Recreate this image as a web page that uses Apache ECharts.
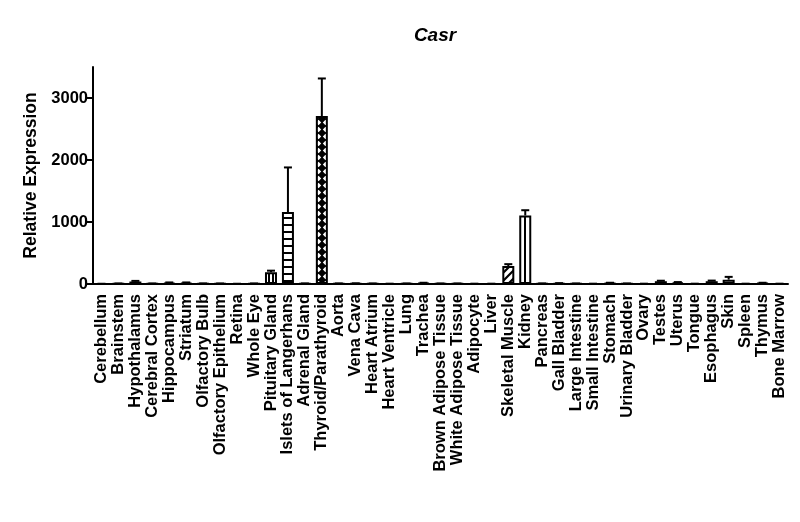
<!DOCTYPE html>
<html>
<head>
<meta charset="UTF-8">
<title>Casr</title>
<style>html,body{margin:0;padding:0;background:#fff;}#chart{width:800px;height:522px;}</style>
<script src="https://cdn.jsdelivr.net/npm/echarts@6/dist/echarts.min.js"></script>
</head>
<body>
<div id="chart"></div>
<script>
// tissues along the x axis
var tissues = ['Cerebellum', 'Brainstem', 'Hypothalamus', 'Cerebral Cortex', 'Hippocampus', 'Striatum',
  'Olfactory Bulb', 'Olfactory Epithelium', 'Retina', 'Whole Eye', 'Pituitary Gland', 'Islets of Langerhans',
  'Adrenal Gland', 'Thyroid/Parathyroid', 'Aorta', 'Vena Cava', 'Heart Atrium', 'Heart Ventricle', 'Lung',
  'Trachea', 'Brown Adipose Tissue', 'White Adipose Tissue', 'Adipocyte', 'Liver', 'Skeletal Muscle', 'Kidney',
  'Pancreas', 'Gall Bladder', 'Large Intestine', 'Small Intestine', 'Stomach', 'Urinary Bladder', 'Ovary',
  'Testes', 'Uterus', 'Tongue', 'Esophagus', 'Skin', 'Spleen', 'Thymus', 'Bone Marrow'];
// mean relative expression
var means = [2, 5, 40, 5, 20, 20, 6, 5, 2, 5, 190, 1160, 6, 2710, 6, 8, 5, 3, 5, 15, 5, 5, 3, 3, 290, 1105,
  6, 10, 5, 3, 15, 5, 3, 45, 25, 3, 45, 70, 3, 15, 3];
// upper error (SEM)
var errs = [2, 3, 10, 3, 5, 5, 3, 3, 2, 3, 25, 720, 3, 605, 3, 3, 3, 2, 3, 5, 3, 3, 2, 2, 30, 85,
  3, 4, 3, 2, 5, 3, 2, 8, 6, 2, 10, 45, 2, 5, 2];
var yTicks = [0, 1000, 2000, 3000];

var FONT = 'Liberation Sans, Arial, sans-serif';

// fill patterns for the highlighted tissues
function pattern(kind) {
  var c = document.createElement('canvas');
  var ctx = c.getContext('2d');
  if (kind == 'vstripe') {
    c.width = 4; c.height = 4;
    ctx.fillStyle = '#fff'; ctx.fillRect(0, 0, 4, 4);
    ctx.fillStyle = '#000'; ctx.fillRect(0, 0, 2, 4);
  } else if (kind == 'wide') {
    c.width = 6; c.height = 6;
    ctx.fillStyle = '#fff'; ctx.fillRect(0, 0, 6, 6);
    ctx.fillStyle = '#000'; ctx.fillRect(2, 0, 2, 6);
  } else if (kind == 'hstripe') {
    c.width = 5; c.height = 7;
    ctx.fillStyle = '#fff'; ctx.fillRect(0, 0, 5, 7);
    ctx.fillStyle = '#000'; ctx.fillRect(0, 0, 5, 2);
  } else if (kind == 'diamond') {
    c.width = 7; c.height = 7;
    ctx.fillStyle = '#000'; ctx.fillRect(0, 0, 7, 7);
    ctx.fillStyle = '#fff';
    ctx.beginPath(); ctx.moveTo(3.5, 0.8); ctx.lineTo(6.2, 3.5); ctx.lineTo(3.5, 6.2); ctx.lineTo(0.8, 3.5); ctx.closePath(); ctx.fill();
  } else if (kind == 'diag') {
    c.width = 8; c.height = 8;
    ctx.fillStyle = '#fff'; ctx.fillRect(0, 0, 8, 8);
    ctx.strokeStyle = '#000'; ctx.lineWidth = 2.2;
    ctx.beginPath();
    ctx.moveTo(-2, 10); ctx.lineTo(10, -2);
    ctx.moveTo(-6, 6); ctx.lineTo(6, -6);
    ctx.moveTo(2, 14); ctx.lineTo(14, 2);
    ctx.stroke();
  }
  return {image: c, repeat: 'repeat'};
}
var fills = {
  'Pituitary Gland': 'vstripe',
  'Islets of Langerhans': 'hstripe',
  'Thyroid/Parathyroid': 'diamond',
  'Skeletal Muscle': 'diag',
  'Kidney': 'wide'
};

var barData = means.map(function (v, i) {
  var item = {value: v};
  if (fills[tissues[i]]) item.itemStyle = {color: pattern(fills[tissues[i]])};
  return item;
});
var errData = means.map(function (v, i) { return [i, v, v + errs[i]]; });

var chart = echarts.init(document.getElementById('chart'));
chart.setOption({
  backgroundColor: '#fff',
  animation: false,
  title: {
    text: 'Casr', left: 430, top: 21, textAlign: 'center',
    textStyle: {fontFamily: FONT, fontSize: 19, fontWeight: 'bold', fontStyle: 'italic', color: '#000'}
  },
  grid: {left: 93, right: 12, top: 67, bottom: 238},
  xAxis: {
    type: 'category',
    data: tissues,
    axisLine: {lineStyle: {color: '#000', width: 2}},
    axisTick: {alignWithLabel: true, length: 7, lineStyle: {color: '#000', width: 2}},
    axisLabel: {
      rotate: 90, interval: 0, margin: 10, color: '#000',
      fontFamily: FONT, fontSize: 16.5, fontWeight: 'bold'
    }
  },
  yAxis: {
    type: 'value',
    min: 0, max: 3500,
    name: 'Relative Expression',
    nameLocation: 'middle',
    nameGap: 50,
    nameTextStyle: {fontFamily: FONT, fontSize: 17.5, fontWeight: 'bold', color: '#000'},
    splitLine: {show: false},
    axisLine: {show: true, lineStyle: {color: '#000', width: 2}},
    axisTick: {show: true, length: 6, customValues: yTicks, lineStyle: {color: '#000', width: 2}},
    axisLabel: {
      customValues: yTicks, margin: 5, color: '#000',
      fontFamily: FONT, fontSize: 16.5, fontWeight: 'bold',
      formatter: function (v) { return String(v); }
    }
  },
  series: [
    {
      type: 'bar',
      data: barData,
      barWidth: 12,
      itemStyle: {color: '#fff', borderColor: '#000', borderWidth: 2},
      z: 2
    },
    {
      type: 'custom',
      data: errData,
      z: 3,
      renderItem: function (params, api) {
        var x = api.value(0);
        var lo = api.coord([x, api.value(1)]);
        var hi = api.coord([x, api.value(2)]);
        var style = {stroke: '#000', lineWidth: 2};
        return {
          type: 'group',
          children: [
            {type: 'line', shape: {x1: lo[0], y1: lo[1], x2: hi[0], y2: hi[1]}, style: style},
            {type: 'line', shape: {x1: hi[0] - 4, y1: hi[1], x2: hi[0] + 4, y2: hi[1]}, style: style}
          ]
        };
      }
    }
  ]
});
</script>
</body>
</html>
